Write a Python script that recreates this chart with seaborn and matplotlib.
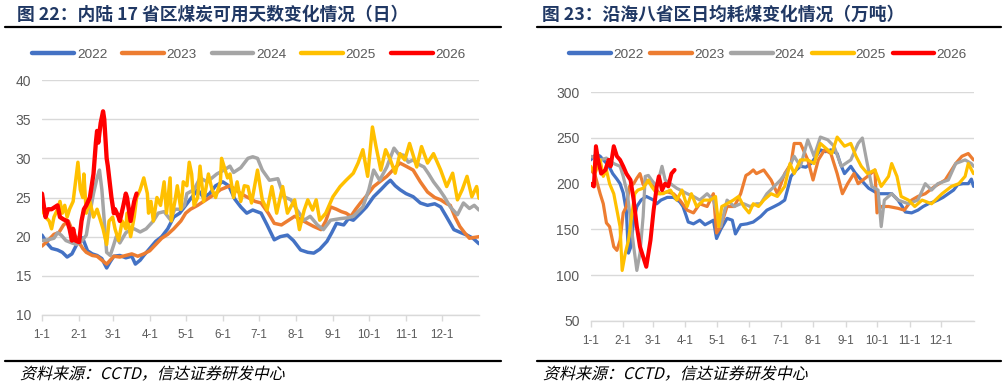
import matplotlib
matplotlib.use('Agg')
import matplotlib.pyplot as plt
import matplotlib.transforms as mtransforms
from matplotlib.lines import Line2D
from matplotlib.patches import PathPatch
from matplotlib.textpath import TextPath
from matplotlib.font_manager import FontProperties
import seaborn as sns
import pandas as pd

####### Data (day of year, value) #######
years = ['2022', '2023', '2024', '2025', '2026']
colors = ['#4472C4', '#ED7D31', '#A5A5A5', '#FFC000', '#FF0000']
month_days = [0, 31, 59, 90, 120, 151, 181, 212, 243, 273, 304, 334]
month_labels = ['1-1', '2-1', '3-1', '4-1', '5-1', '6-1', '7-1', '8-1', '9-1', '10-1', '11-1', '12-1']

# 内陆17省区煤炭可用天数
inl_2022_d = [0, 4, 8, 13, 17, 21, 25, 29, 31, 34, 38, 42, 46, 50, 54, 57, 60, 65, 70, 75, 78, 82, 85, 90, 95, 100, 105, 110, 115, 120, 125, 130, 135, 140, 145, 151, 156, 161, 166, 171, 176, 183, 188, 194, 199, 205, 210, 216, 222, 227, 232, 238, 242, 246, 252, 256, 260, 266, 271, 277, 283, 288, 291, 295, 299, 304, 310, 316, 322, 328, 333, 338, 344, 350, 355, 360, 365]
inl_2022_v = [20.2, 19.2, 18.5, 18.3, 18.0, 17.4, 17.8, 19.0, 20.0, 19.8, 18.2, 17.8, 17.6, 17.2, 16.0, 16.8, 17.5, 17.6, 17.3, 17.5, 16.5, 17.0, 17.6, 18.5, 19.4, 20.0, 21.0, 22.5, 23.0, 24.0, 25.0, 26.0, 25.0, 25.5, 26.5, 27.0, 26.5, 24.8, 23.8, 23.0, 23.4, 23.0, 21.5, 19.6, 20.0, 20.2, 19.5, 18.3, 18.0, 17.9, 18.4, 19.4, 20.5, 21.7, 21.5, 22.3, 22.1, 23.0, 23.8, 25.1, 26.0, 26.8, 27.2, 26.5, 26.0, 25.5, 25.1, 24.3, 24.0, 24.2, 23.8, 22.5, 20.9, 20.5, 20.2, 19.8, 19.1]
inl_2023_d = [0, 5, 10, 14, 18, 22, 26, 30, 34, 37, 42, 46, 50, 54, 57, 60, 65, 70, 75, 80, 85, 90, 95, 100, 105, 110, 116, 120, 124, 130, 135, 140, 145, 149, 157, 166, 172, 178, 183, 189, 194, 200, 205, 211, 216, 222, 227, 233, 237, 241, 246, 250, 254, 258, 262, 266, 271, 277, 282, 288, 293, 299, 304, 310, 316, 322, 328, 333, 338, 341, 345, 349, 353, 357, 361, 365]
inl_2023_v = [18.8, 19.5, 20.3, 20.5, 21.5, 22.0, 20.5, 19.5, 18.5, 18.0, 17.6, 17.5, 17.0, 16.5, 17.0, 17.5, 17.4, 17.6, 17.8, 17.5, 17.8, 18.2, 19.0, 19.8, 20.3, 21.0, 22.0, 23.0, 23.5, 24.0, 24.5, 25.0, 25.5, 26.0, 26.5, 25.5, 25.0, 24.5, 24.3, 23.0, 21.7, 21.5, 22.0, 22.6, 22.2, 21.7, 21.3, 20.9, 22.0, 23.8, 23.5, 23.2, 23.0, 22.6, 23.5, 24.3, 25.2, 26.4, 27.0, 27.7, 28.5, 29.4, 29.0, 28.5, 27.0, 25.7, 25.0, 24.7, 24.2, 24.0, 22.5, 21.3, 20.5, 19.8, 19.9, 20.0]
inl_2024_d = [0, 5, 10, 13, 16, 20, 25, 29, 33, 37, 40, 43, 46, 48, 50, 52, 54, 57, 60, 62, 65, 70, 75, 77, 82, 87, 93, 97, 102, 107, 111, 116, 119, 121, 127, 132, 138, 146, 152, 157, 160, 166, 172, 176, 180, 184, 190, 197, 202, 208, 213, 219, 224, 230, 235, 241, 249, 255, 260, 268, 273, 277, 282, 288, 294, 298, 302, 306, 310, 315, 319, 323, 327, 332, 336, 341, 347, 352, 357, 361, 365]
inl_2024_v = [19.5, 19.6, 19.8, 20.5, 20.2, 19.5, 19.2, 19.0, 19.4, 20.2, 23.0, 25.5, 27.5, 28.5, 26.0, 22.0, 18.0, 17.6, 19.0, 20.0, 19.2, 20.5, 21.0, 21.0, 20.6, 21.0, 22.0, 23.0, 23.2, 22.2, 23.5, 23.5, 24.0, 25.5, 26.0, 27.5, 27.0, 28.0, 28.5, 29.0, 28.2, 28.8, 30.0, 30.2, 30.0, 28.5, 27.2, 27.4, 25.1, 24.7, 23.4, 22.1, 22.6, 21.5, 20.9, 22.1, 22.3, 22.4, 22.6, 23.8, 26.0, 28.5, 27.2, 28.9, 31.3, 30.5, 30.4, 29.5, 29.8, 29.2, 28.9, 28.0, 27.0, 26.0, 25.1, 23.8, 22.8, 24.3, 23.6, 24.0, 23.4]
inl_2025_d = [0, 3, 6, 8, 10, 13, 15, 17, 19, 21, 23, 26, 28, 30, 32, 34, 35, 37, 40, 43, 46, 49, 51, 54, 56, 59, 61, 64, 67, 70, 71, 74, 77, 79, 82, 85, 88, 89, 91, 93, 96, 99, 102, 104, 107, 108, 111, 113, 116, 118, 121, 123, 125, 127, 130, 132, 135, 139, 142, 145, 149, 150, 155, 157, 160, 163, 166, 169, 172, 175, 180, 184, 188, 192, 196, 201, 205, 211, 215, 219, 222, 226, 229, 232, 237, 243, 249, 254, 260, 264, 268, 272, 276, 279, 283, 287, 291, 295, 299, 303, 307, 313, 317, 322, 327, 333, 338, 343, 347, 351, 355, 359, 363, 365]
inl_2025_v = [23.5, 22.5, 22.0, 21.0, 22.5, 23.5, 24.5, 23.0, 24.0, 22.5, 23.5, 24.5, 27.0, 29.5, 26.0, 25.0, 28.0, 23.0, 24.5, 22.5, 23.5, 22.0, 21.0, 19.0, 22.0, 22.5, 21.0, 19.5, 22.0, 21.0, 23.0, 20.0, 22.5, 25.0, 26.0, 27.5, 25.5, 23.0, 24.5, 22.0, 25.0, 24.0, 27.0, 23.0, 27.5, 22.0, 24.5, 26.5, 23.5, 27.0, 26.5, 29.5, 28.0, 24.0, 25.0, 29.0, 24.5, 28.0, 26.0, 25.0, 27.0, 30.0, 27.5, 28.0, 25.0, 27.0, 24.5, 26.5, 26.4, 24.3, 28.5, 24.7, 23.4, 26.4, 23.0, 26.4, 23.0, 24.7, 20.9, 23.4, 24.7, 23.4, 24.7, 22.1, 23.0, 25.1, 26.4, 27.2, 28.1, 29.4, 31.1, 27.7, 34.0, 31.5, 28.5, 31.1, 29.8, 28.1, 30.6, 29.8, 31.9, 28.9, 31.5, 29.4, 30.6, 28.5, 26.4, 28.1, 24.7, 26.0, 27.7, 25.1, 26.4, 24.9]
inl_2026_d = [0, 2, 3, 5, 8, 11, 13, 15, 18, 21, 23, 25, 26, 28, 31, 33, 35, 37, 40, 43, 45, 46, 47, 49, 51, 52, 54, 55, 58, 60, 61, 64, 65, 68, 70, 71, 74, 77, 79]
inl_2026_v = [25.5, 23.5, 22.5, 23.5, 23.5, 23.8, 24.0, 22.5, 22.2, 22.0, 21.0, 19.5, 21.0, 19.5, 19.3, 22.0, 23.5, 24.0, 25.0, 28.0, 32.0, 33.5, 32.0, 34.5, 36.0, 35.0, 30.0, 29.0, 25.0, 23.0, 23.5, 22.5, 22.0, 24.0, 25.5, 25.0, 22.0, 24.5, 25.5]

# 沿海八省区日均耗煤
cst_2022_d = [0, 3, 6, 9, 12, 17, 21, 25, 28, 31, 34, 35, 36, 38, 41, 44, 48, 53, 60, 63, 67, 73, 79, 85, 88, 91, 93, 98, 104, 109, 114, 117, 120, 124, 130, 135, 138, 143, 149, 155, 162, 168, 175, 180, 185, 188, 191, 196, 200, 205, 210, 215, 219, 224, 229, 235, 238, 242, 245, 248, 252, 255, 261, 265, 268, 274, 280, 287, 293, 297, 300, 306, 312, 317, 322, 327, 331, 336, 341, 346, 350, 355, 360, 363, 365]
cst_2022_v = [226, 230, 232, 230, 226, 220, 211, 205, 200, 190, 170, 146, 124, 130, 160, 175, 182, 186, 182, 178, 182, 185, 185, 180, 175, 165, 158, 156, 160, 155, 158, 160, 140, 150, 162, 160, 145, 155, 156, 158, 164, 171, 175, 178, 182, 195, 208, 215, 219, 218, 222, 230, 237, 235, 237, 233, 222, 211, 215, 219, 212, 208, 200, 195, 193, 189, 189, 189, 182, 175, 169, 168, 171, 175, 178, 180, 182, 185, 189, 193, 199, 200, 200, 205, 197]
cst_2023_d = [0, 4, 9, 12, 15, 18, 22, 25, 28, 31, 34, 37, 41, 44, 47, 50, 53, 60, 66, 73, 79, 85, 92, 98, 104, 111, 117, 120, 124, 130, 137, 143, 148, 151, 155, 158, 165, 172, 178, 185, 191, 194, 200, 207, 212, 217, 223, 229, 235, 240, 245, 251, 255, 264, 271, 273, 277, 284, 293, 299, 306, 312, 319, 328, 338, 348, 354, 360, 365]
cst_2023_v = [215, 210, 189, 178, 157, 153, 131, 127, 138, 168, 175, 197, 200, 206, 211, 199, 204, 197, 189, 191, 189, 182, 171, 168, 178, 175, 189, 146, 153, 175, 175, 189, 209, 211, 215, 211, 215, 204, 189, 211, 222, 244, 244, 226, 204, 226, 237, 233, 211, 189, 200, 211, 200, 208, 215, 168, 175, 175, 173, 171, 182, 186, 189, 197, 204, 222, 230, 233, 226]
cst_2024_d = [0, 9, 15, 22, 28, 31, 35, 38, 41, 44, 47, 50, 52, 55, 58, 63, 68, 71, 76, 82, 92, 98, 104, 111, 117, 124, 130, 137, 143, 146, 152, 158, 162, 168, 175, 181, 188, 194, 200, 207, 213, 219, 226, 232, 239, 248, 255, 259, 263, 268, 274, 277, 280, 287, 293, 303, 312, 319, 325, 331, 341, 348, 357, 363, 365]
cst_2024_v = [230, 226, 228, 222, 219, 208, 189, 160, 131, 105, 124, 164, 208, 209, 204, 197, 219, 204, 200, 195, 189, 186, 182, 189, 182, 153, 182, 175, 178, 178, 175, 178, 178, 189, 197, 204, 215, 230, 219, 248, 230, 251, 248, 241, 219, 226, 244, 250, 226, 197, 193, 153, 182, 189, 182, 178, 182, 200, 193, 200, 204, 222, 226, 222, 219]
cst_2025_d = [0, 4, 9, 12, 15, 18, 22, 25, 28, 30, 33, 36, 39, 42, 45, 50, 55, 58, 63, 69, 76, 82, 87, 92, 96, 101, 108, 114, 119, 122, 125, 130, 136, 141, 146, 151, 155, 160, 165, 172, 178, 185, 190, 194, 200, 207, 213, 219, 226, 230, 235, 242, 248, 253, 258, 264, 271, 277, 284, 287, 292, 296, 303, 309, 316, 325, 335, 344, 351, 357, 360, 365]
cst_2025_v = [219, 211, 226, 208, 215, 200, 189, 171, 153, 105, 124, 138, 164, 189, 193, 195, 204, 197, 189, 189, 193, 182, 193, 175, 189, 175, 182, 182, 186, 153, 175, 178, 182, 186, 175, 168, 178, 175, 182, 189, 186, 197, 222, 211, 226, 226, 222, 244, 237, 233, 251, 241, 244, 230, 219, 211, 215, 197, 208, 222, 208, 186, 182, 175, 182, 178, 189, 197, 200, 208, 222, 211]
cst_2026_d = [0, 3, 5, 7, 10, 14, 17, 19, 22, 25, 28, 31, 34, 38, 41, 44, 47, 50, 53, 57, 60, 63, 65, 68, 71, 74, 77, 80]
cst_2026_v = [200, 197, 241, 226, 211, 215, 226, 219, 241, 230, 226, 219, 211, 204, 182, 153, 131, 120, 109, 138, 171, 197, 208, 193, 200, 197, 211, 215]

inland = [(inl_2022_d, inl_2022_v), (inl_2023_d, inl_2023_v), (inl_2024_d, inl_2024_v),
          (inl_2025_d, inl_2025_v), (inl_2026_d, inl_2026_v)]
coast = [(cst_2022_d, cst_2022_v), (cst_2023_d, cst_2023_v), (cst_2024_d, cst_2024_v),
         (cst_2025_d, cst_2025_v), (cst_2026_d, cst_2026_v)]

####### Style #######
sns.set_style('white')
plt.rcParams['font.family'] = ['Liberation Sans', 'Noto Sans CJK SC', 'DejaVu Sans']
grey_txt = '#595959'
grid_c = '#D9D9D9'

W, H = 1006, 386
fig = plt.figure(figsize=(W / 100, H / 100), dpi=100)
ax1 = fig.add_axes([42 / W, 71 / H, 437 / W, 235 / H])
ax2 = fig.add_axes([590.7 / W, 65.3 / H, 382.8 / W, 228.4 / H])


def draw_panel(ax, series, lw, lw_red):
    for yr, col, (d, v) in zip(years, colors, series):
        df = pd.DataFrame({'day': d, 'val': v})
        sns.lineplot(data=df, x='day', y='val', color=col, ax=ax,
                     lw=lw_red if yr == '2026' else lw, solid_joinstyle='round')
    ax.set_xlim(0, 365)
    ax.set_xticks(month_days)
    ax.set_xticklabels(month_labels)
    ax.set_xlabel('')
    ax.set_ylabel('')
    for s in ['top', 'right', 'left']:
        ax.spines[s].set_visible(False)
    ax.spines['bottom'].set_color(grid_c)
    ax.spines['bottom'].set_linewidth(1.0)
    ax.grid(axis='y', color=grid_c, lw=1.0)
    ax.grid(axis='x', visible=False)
    ax.set_axisbelow(True)
    ax.tick_params(axis='x', colors=grid_c, labelcolor=grey_txt, labelsize=8.4,
                   length=4, width=1, direction='out', bottom=True, pad=6)
    ax.tick_params(axis='y', labelcolor=grey_txt, labelsize=10, length=0, pad=8)


draw_panel(ax1, inland, 2.5, 3.1)
ax1.set_ylim(10, 40)
ax1.set_yticks([10, 15, 20, 25, 30, 35, 40])

draw_panel(ax2, coast, 2.3, 2.9)
ax2.set_ylim(50, 300)
ax2.set_yticks([50, 100, 150, 200, 250, 300])

# legends
handles = [Line2D([], [], color=c, lw=3.2) for c in colors]
ax1.legend(handles, years, loc='center', bbox_to_anchor=(249 / W, 1 - 55 / H),
           bbox_transform=fig.transFigure, ncol=5, frameon=False, fontsize=9.7,
           handlelength=3.1, handletextpad=0.2, columnspacing=1.1, labelcolor=grey_txt)
ax2.legend(handles, years, loc='center', bbox_to_anchor=(768 / W, 1 - 55 / H),
           bbox_transform=fig.transFigure, ncol=5, frameon=False, fontsize=9.7,
           handlelength=3.1, handletextpad=0.15, columnspacing=0.5, labelcolor=grey_txt)

# titles + rules
title_c = '#203864'
fig.text(17 / W, 1 - 15 / H, '图 22：内陆 17 省区煤炭可用天数变化情况（日）', color=title_c,
         fontsize=12.8, fontweight='bold', va='center', ha='left',
         family=['Noto Sans CJK SC', 'DejaVu Sans'])
fig.text(542 / W, 1 - 15 / H, '图 23：沿海八省区日均耗煤变化情况（万吨）', color=title_c,
         fontsize=12.8, fontweight='bold', va='center', ha='left',
         family=['Noto Sans CJK SC', 'DejaVu Sans'])
for x0, x1 in [(5, 501), (537, 1001)]:
    fig.add_artist(Line2D([x0 / W, x1 / W], [1 - 27 / H] * 2, color='black', lw=1.6))
    fig.add_artist(Line2D([x0 / W, x1 / W], [1 - 361 / H] * 2, color='black', lw=1.6))

# slanted source note (CJK fonts have no italic face)
src = '资料来源：CCTD，信达证券研发中心'
for x_px in [20, 543]:
    tp = TextPath((0, 0), src, size=11.5, prop=FontProperties(family='Noto Sans CJK SC'))
    tr = mtransforms.Affine2D().skew_deg(14, 0).scale(fig.dpi / 72).translate(x_px, H - 379)
    fig.add_artist(PathPatch(tp, transform=tr, facecolor='black', lw=0))

fig.savefig('out.png', dpi=100)
